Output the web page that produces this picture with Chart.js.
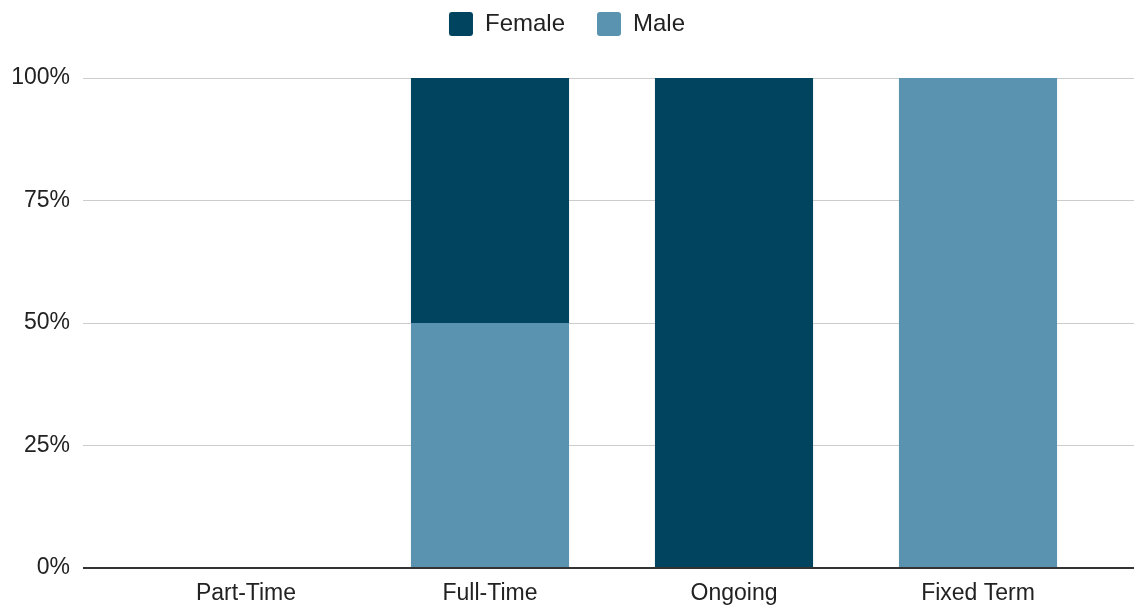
<!DOCTYPE html>
<html>
<head>
<meta charset="utf-8">
<script src="https://cdn.jsdelivr.net/npm/chart.js@4/dist/chart.umd.min.js"></script>
<style>
  html, body { margin: 0; padding: 0; background: #ffffff; }
  #wrap { width: 1134px; height: 607px; }
</style>
</head>
<body>
<div id="wrap"><canvas id="c" width="1134" height="607"></canvas></div>
<script>
// Employment type split by gender (share of staff, %)
const categories = ['Part-Time', 'Full-Time', 'Ongoing', 'Fixed Term'];
const femaleShare = [0, 50, 100, 0];
const maleShare = [0, 50, 0, 100];
const yTicks = [0, 25, 50, 75, 100];

const FEMALE = '#00445f';
const MALE = '#5a93b0';
const FONT = "'Liberation Sans', Arial, sans-serif";
const FONT_SIZE = 23;

const gridColor = ctx => (ctx.tick && ctx.tick.value === 0 ? '#333333' : '#cccccc');
const gridWidth = ctx => (ctx.tick && ctx.tick.value === 0 ? 2 : 1);

// Reserve a fixed band for the legend above the plot
const legendBand = {
  id: 'legendBand',
  beforeInit(chart) {
    const legend = chart.legend;
    if (!legend) return;
    const fit = legend.fit;
    legend.fit = function () {
      fit.call(this);
      this.height = 98;
    };
  }
};

new Chart(document.getElementById('c'), {
  type: 'bar',
  data: {
    labels: categories,
    datasets: [
      { label: 'Male', data: maleShare, backgroundColor: MALE, borderWidth: 0 },
      { label: 'Female', data: femaleShare, backgroundColor: FEMALE, borderWidth: 0 }
    ]
  },
  plugins: [legendBand],
  options: {
    responsive: false,
    animation: false,
    devicePixelRatio: 1,
    categoryPercentage: 1,
    barPercentage: 0.648,
    layout: { padding: { top: -20, bottom: 0, left: 0, right: 0 } },
    plugins: {
      tooltip: { enabled: false },
      legend: {
        position: 'top',
        reverse: true,
        labels: {
          font: { family: FONT, size: 24 },
          color: '#222222',
          boxWidth: 24,
          boxHeight: 24,
          useBorderRadius: true,
          borderRadius: 3,
          padding: 32
        }
      }
    },
    scales: {
      x: {
        stacked: true,
        afterFit: s => { s.height = 39; },
        grid: { display: false, drawTicks: false },
        border: { display: false },
        ticks: { font: { family: FONT, size: FONT_SIZE }, color: '#222222', padding: 12 }
      },
      y: {
        stacked: true,
        min: 0,
        max: 100,
        afterFit: s => { s.width = 124; },
        afterBuildTicks: s => { s.ticks = yTicks.map(v => ({ value: v })); },
        grid: { color: gridColor, tickColor: gridColor, lineWidth: gridWidth, tickLength: 41 },
        border: { display: false },
        ticks: {
          font: { family: FONT, size: FONT_SIZE },
          color: '#222222',
          padding: 13,
          callback: v => v + '%'
        }
      },
      yRight: {
        position: 'right',
        min: 0,
        max: 100,
        afterFit: s => { s.width = 34; },
        afterBuildTicks: s => { s.ticks = yTicks.map(v => ({ value: v })); },
        grid: { color: gridColor, tickColor: gridColor, lineWidth: gridWidth, tickLength: 34 },
        border: { display: false },
        ticks: { display: false }
      }
    }
  }
});
</script>
</body>
</html>
